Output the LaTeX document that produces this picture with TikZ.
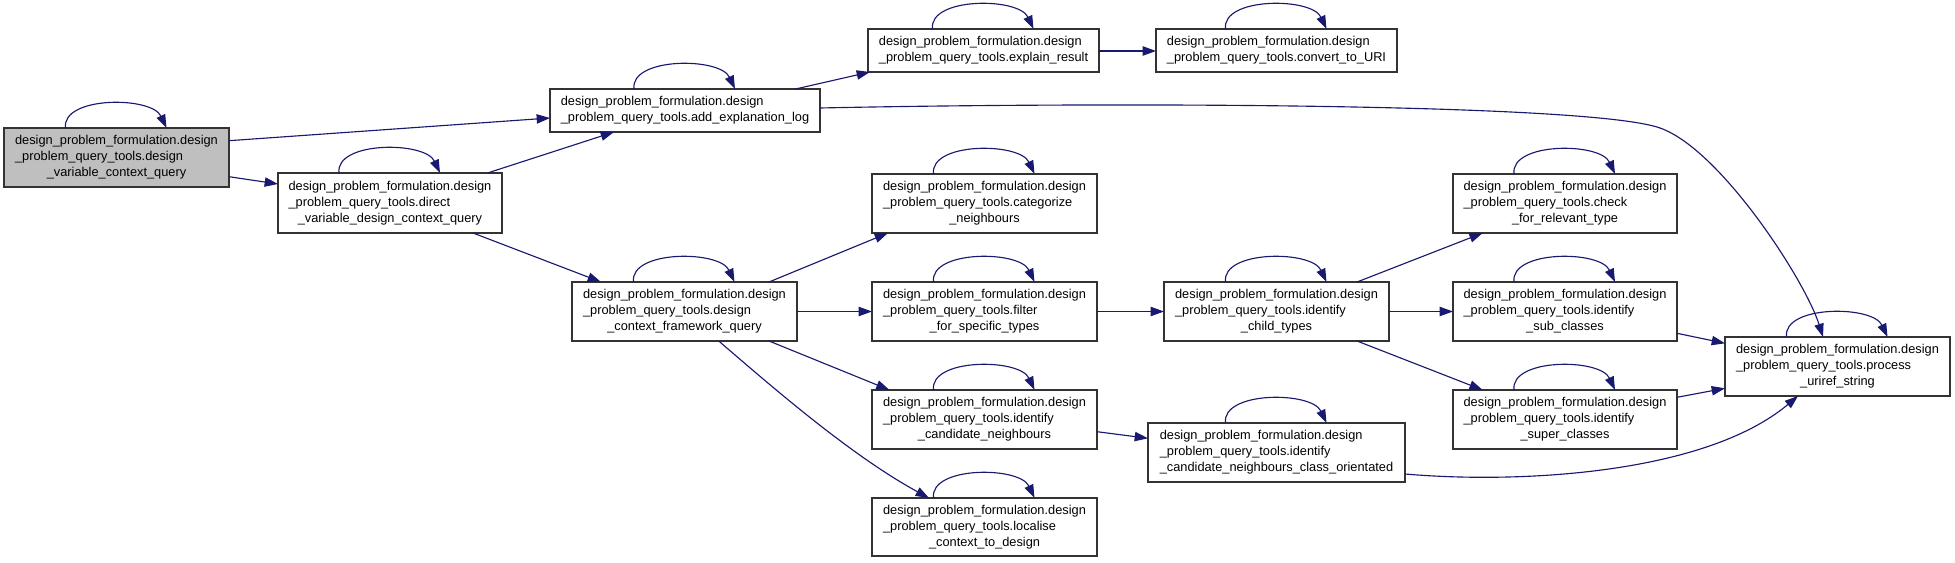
\documentclass[tikz,border=0pt]{standalone}
\usepackage{fontspec}
\setmainfont{Liberation Sans}
\usetikzlibrary{arrows.meta,calc}
\definecolor{edgec}{HTML}{191970}
\definecolor{rootfill}{HTML}{BFBFBF}
\definecolor{boxline}{HTML}{333333}
\newcommand\Lone{design\_problem\_formulation.design}
\newcommand\lblA[3]{\begin{tabular}{@{}l@{}}#1\\#2\\\multicolumn{1}{@{}c@{}}{#3}\end{tabular}}
\newcommand\lblB[2]{\begin{tabular}{@{}l@{}}#1\\\multicolumn{1}{@{}c@{}}{#2}\end{tabular}}
\newcommand\gbox[7][gnode]{\node[#1, minimum width={(#5-#3)*0.75pt}, minimum height={(#6-#4)*0.75pt}] (#2) at ({(#3+#5)/2},{(#4+#6)/2}) {#7};}
\newcommand\selfloop[1]{\draw[edge] ($(#1.north)+(-51,0)$) .. controls +(-4,-32) and +(-15,-32) .. ($(#1.north)+(50,0)$);}
\tikzset{
  gnode/.style={draw=boxline, line width=0.8pt, fill=white, rectangle, inner sep=0pt, outer sep=0pt,
    font=\fontsize{9.6pt}{12pt}\selectfont, text=black},
  rootnode/.style={gnode, fill=rootfill},
  edge/.style={draw=edgec, line width=0.85pt, -{Triangle[length=10pt,width=7pt]}, edgec},
}
\begin{document}
\begin{tikzpicture}[x=0.75pt,y=-0.75pt]
\useasboundingbox (0,0) rectangle (1955,563);
% nodes
\gbox[rootnode]{root}{4}{128}{229}{187}{\lblA{\Lone}{\_problem\_query\_tools.design}{\_variable\_context\_query}}
\gbox{direct}{278}{173}{502}{233}{\lblA{\Lone}{\_problem\_query\_tools.direct}{\_variable\_design\_context\_query}}
\gbox{add}{550}{89}{820}{132}{\lblB{\Lone}{\_problem\_query\_tools.add\_explanation\_log}}
\gbox{explain}{868}{29}{1099}{72}{\lblB{\Lone}{\_problem\_query\_tools.explain\_result}}
\gbox{convert}{1156}{29}{1397}{72}{\lblB{\Lone}{\_problem\_query\_tools.convert\_to\_URI}}
\gbox{categorize}{872}{174}{1097}{233}{\lblA{\Lone}{\_problem\_query\_tools.categorize}{\_neighbours}}
\gbox{dcfq}{572}{282}{797}{341}{\lblA{\Lone}{\_problem\_query\_tools.design}{\_context\_framework\_query}}
\gbox{filter}{872}{282}{1097}{341}{\lblA{\Lone}{\_problem\_query\_tools.filter}{\_for\_specific\_types}}
\gbox{idcand}{872}{390}{1097}{449}{\lblA{\Lone}{\_problem\_query\_tools.identify}{\_candidate\_neighbours}}
\gbox{localise}{872}{498}{1097}{556}{\lblA{\Lone}{\_problem\_query\_tools.localise}{\_context\_to\_design}}
\gbox{co}{1148}{423}{1405}{482}{\lblA{\Lone}{\_problem\_query\_tools.identify}{\_candidate\_neighbours\_class\_orientated}}
\gbox{child}{1164}{282}{1389}{341}{\lblA{\Lone}{\_problem\_query\_tools.identify}{\_child\_types}}
\gbox{check}{1453}{174}{1677}{233}{\lblA{\Lone}{\_problem\_query\_tools.check}{\_for\_relevant\_type}}
\gbox{sub}{1453}{282}{1677}{341}{\lblA{\Lone}{\_problem\_query\_tools.identify}{\_sub\_classes}}
\gbox{super}{1453}{390}{1677}{449}{\lblA{\Lone}{\_problem\_query\_tools.identify}{\_super\_classes}}
\gbox{process}{1725}{337}{1950}{396}{\lblA{\Lone}{\_problem\_query\_tools.process}{\_uriref\_string}}
% self loops
\foreach \n in {root,direct,add,explain,convert,categorize,dcfq,filter,idcand,localise,co,child,check,sub,super,process}{\selfloop{\n}}
% edges
\draw[edge] ($(root.north west)+(225,12.7)$) -- ($(add.north west)+(0,29)$);
\draw[edge] ($(root.north west)+(225,48.7)$) -- ($(direct.north west)+(0,11)$);
\draw[edge] ($(direct.north west)+(209.5,0)$) -- ($(add.north west)+(64,43)$);
\draw[edge] ($(direct.north west)+(195,60)$) -- ($(dcfq.north west)+(29,0)$);
\draw[edge] ($(add.north west)+(245.5,0)$) -- ($(explain.north west)+(2,43)$);
\draw[edge] ($(add.north west)+(270,19)$) .. controls (1100,102) and (1590,103) .. (1660,128)
   .. controls (1720,149) and (1805,280) .. ($(process.north west)+(98,0)$);
\draw[edge] ($(explain.north west)+(231,22)$) -- ($(convert.north west)+(0,22)$);
\draw[edge] ($(dcfq.north west)+(197,0)$) -- ($(categorize.north west)+(16,59)$);
\draw[edge] ($(dcfq.north west)+(225,29.5)$) -- ($(filter.north west)+(0,29.5)$);
\draw[edge] ($(dcfq.north west)+(197,59)$) -- ($(idcand.north west)+(17.5,0)$);
\draw[edge] ($(dcfq.north west)+(146.7,59)$) .. controls (770,385) and (850,455) .. ($(localise.north west)+(57,0)$);
\draw[edge] ($(filter.north west)+(225,29.5)$) -- ($(child.north west)+(0,29.5)$);
\draw[edge] ($(idcand.north west)+(225,41.7)$) -- ($(co.north west)+(0,15.3)$);
\draw[edge] ($(co.north west)+(257,51)$) .. controls (1520,484) and (1705,474) .. ($(process.north west)+(73,59)$);
\draw[edge] ($(child.north west)+(193,0)$) -- ($(check.north west)+(29.7,59)$);
\draw[edge] ($(child.north west)+(225,29.5)$) -- ($(sub.north west)+(0,29.5)$);
\draw[edge] ($(child.north west)+(193,59)$) -- ($(super.north west)+(29.7,0)$);
\draw[edge] ($(sub.north west)+(224,51.3)$) -- ($(process.north west)+(0,6.3)$);
\draw[edge] ($(super.north west)+(224,7.3)$) -- ($(process.north west)+(0,51.3)$);
\end{tikzpicture}
\end{document}
